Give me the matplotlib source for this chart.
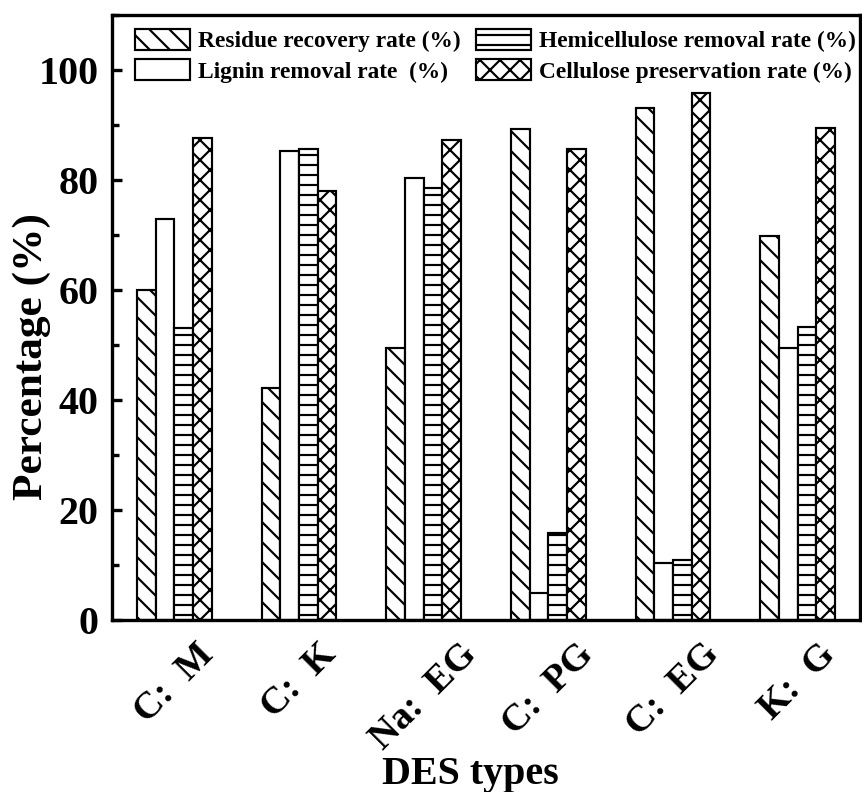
import numpy as np
import matplotlib
matplotlib.use("Agg")
import matplotlib.pyplot as plt
from matplotlib.ticker import MultipleLocator

# data
CATEGORIES = ["C:  M", "C:  K", "Na:  EG", "C:  PG", "C:  EG", "K:  G"]
RESIDUE = [60.0, 42.1, 49.5, 89.2, 93.1, 69.8]
LIGNIN = [73.0, 85.3, 80.4, 5.0, 10.4, 49.5]
HEMI = [53.1, 85.7, 78.6, 15.9, 11.0, 53.2]
CELLULOSE = [87.6, 78.0, 87.2, 85.6, 95.8, 89.5]
SERIES_LABELS = ["Residue recovery rate (%)", "Lignin removal rate  (%)",
                 "Hemicellulose removal rate (%)", "Cellulose preservation rate (%)"]
HATCHES = ["\\\\", "", "--", "xx"]

DPI = 120
FIGSIZE = (862 / DPI, 792 / DPI)
BAR_W = 0.15

plt.rcParams["font.family"] = ["Liberation Serif", "DejaVu Serif"]
plt.rcParams["font.weight"] = "bold"
plt.rcParams["hatch.linewidth"] = 1.3
plt.rcParams["hatch.color"] = "black"


def main():
    fig = plt.figure(figsize=FIGSIZE, dpi=DPI)
    ax = fig.add_axes([112 / 862, 1 - 620 / 792, 748 / 862, 605 / 792])
    x = np.arange(len(CATEGORIES))
    series = [RESIDUE, LIGNIN, HEMI, CELLULOSE]
    offsets = [-1.5, -0.5, 0.5, 1.5]
    handles = []
    for vals, off, hatch, lab in zip(series, offsets, HATCHES, SERIES_LABELS):
        b = ax.bar(x + off * BAR_W, vals, BAR_W, facecolor="white",
                   edgecolor="black", linewidth=1.3, hatch=hatch, label=lab)
        handles.append(b)

    ax.set_xlim(-0.5, len(CATEGORIES) - 0.5)
    ax.set_ylim(0, 110)
    ax.yaxis.set_minor_locator(MultipleLocator(10))
    ax.set_yticks([0, 20, 40, 60, 80, 100])
    ax.set_xticks(x)
    ax.set_xticklabels(CATEGORIES, rotation=45, fontsize=23, fontweight="bold")
    ax.tick_params(axis="y", which="major", direction="in", length=6,
                   width=2, labelsize=24, pad=8)
    ax.tick_params(axis="y", which="minor", direction="in", length=4, width=2)
    ax.tick_params(axis="x", length=0, pad=10)
    for s in ax.spines.values():
        s.set_linewidth(2)

    ax.set_xlabel("DES types", fontsize=24, fontweight="bold")
    ax.xaxis.set_label_coords(0.479, -0.225)
    ax.set_ylabel("Percentage (%)", fontsize=26, fontweight="bold")
    ax.yaxis.set_label_coords(-0.082, 0.435)

    ax.legend(handles=handles, labels=SERIES_LABELS, ncol=2, loc="upper left",
              bbox_to_anchor=(0.031, 0.977), frameon=False,
              handlelength=2.35, handleheight=1.0, handletextpad=0.35,
              columnspacing=0.65, labelspacing=0.3, borderaxespad=0,
              borderpad=0, prop={"weight": "bold", "size": 14})

    fig.savefig("out.png", dpi=DPI)


if __name__ == "__main__":
    main()
